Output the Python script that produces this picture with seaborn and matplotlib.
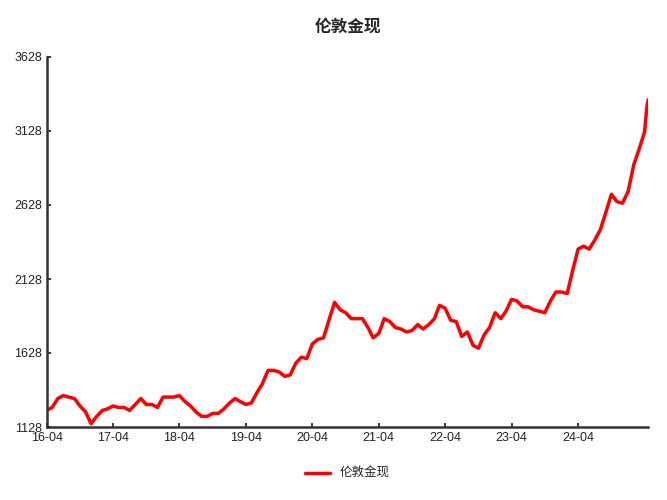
import matplotlib
matplotlib.use("Agg")
import matplotlib.pyplot as plt
import matplotlib.dates as mdates
import seaborn as sns
import pandas as pd

# 月度估计值（伦敦金现）
dates = pd.date_range("2016-04-01", "2025-04-01", freq="MS").tolist() + [pd.Timestamp("2025-04-15"), pd.Timestamp("2025-04-22")]
prices = [1240, 1260, 1320, 1340, 1330, 1320, 1270, 1230, 1150,
          1200, 1240, 1250, 1270, 1260, 1260, 1240, 1280, 1320, 1280, 1280, 1260,
          1330, 1330, 1330, 1340, 1300, 1270, 1230, 1200, 1200, 1220, 1220, 1250,
          1290, 1320, 1300, 1280, 1290, 1360, 1420, 1510, 1510, 1500, 1470, 1480,
          1560, 1600, 1590, 1690, 1720, 1730, 1850, 1970, 1920, 1900, 1860, 1860,
          1860, 1800, 1730, 1760, 1860, 1840, 1800, 1790, 1770, 1780, 1820, 1790,
          1820, 1860, 1950, 1930, 1850, 1840, 1740, 1770, 1680, 1660, 1750, 1800,
          1900, 1860, 1910, 1990, 1980, 1940, 1940, 1920, 1910, 1900, 1980, 2040,
          2040, 2030, 2180, 2330, 2350, 2330, 2390, 2460, 2580, 2700, 2650, 2640,
          2720, 2900, 3000, 3120, 3300, 3340]
label = "伦敦金现"
yticks = [1128, 1628, 2128, 2628, 3128, 3628]

sns.set_theme(style="ticks")
plt.rcParams['font.family'] = ['Liberation Sans', 'Noto Sans CJK SC', 'DejaVu Sans']

df = pd.DataFrame({"date": dates, "price": prices})
fig, ax = plt.subplots(figsize=(6.67, 5), dpi=100)
sns.lineplot(data=df, x="date", y="price", color="#ff0000", linewidth=2.5, label=label, ax=ax)

ax.set_xlim(pd.Timestamp("2016-04-01"), pd.Timestamp("2025-04-22"))
ax.set_ylim(1128, 3628)
ax.set_yticks(yticks)
ax.set_xticks([pd.Timestamp(f"{y}-04-01") for y in range(2016, 2025)])
ax.xaxis.set_major_formatter(mdates.DateFormatter("%y-%m"))
ax.set_xlabel("")
ax.set_ylabel("")
ax.tick_params(labelsize=9, direction="in", length=3, colors="#222222")
for s in ["top", "right"]:
    ax.spines[s].set_visible(False)
for s in ["left", "bottom"]:
    ax.spines[s].set_linewidth(1.8)
    ax.spines[s].set_color("#333333")
ax.set_title("伦敦金现", fontsize=12, fontweight="bold", pad=18)
ax.legend(loc="upper center", bbox_to_anchor=(0.5, -0.08), frameon=False, fontsize=9)
fig.subplots_adjust(left=0.07, right=0.972, top=0.886, bottom=0.146)
fig.savefig("out.png", dpi=100)
